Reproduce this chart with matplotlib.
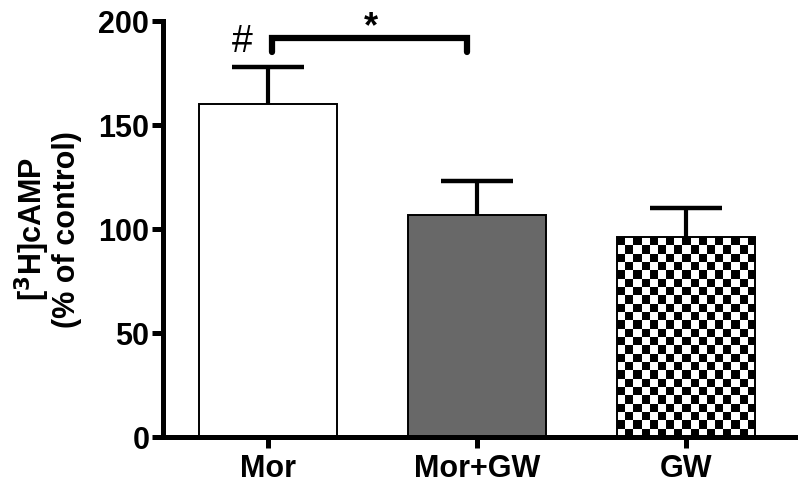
import numpy as np
import matplotlib
matplotlib.use("Agg")
import matplotlib.pyplot as plt

groups = ["Mor", "Mor+GW", "GW"]
means = [160, 107, 96]
errors = [18, 16, 14]
yticks = [0, 50, 100, 150, 200]

plt.rcParams["font.family"] = ["Liberation Sans", "DejaVu Sans"]
plt.rcParams["font.weight"] = "bold"
plt.rcParams["mathtext.default"] = "bf"

fig = plt.figure(figsize=(8, 4.9), dpi=100)
ax = fig.add_axes([0.204, 0.108, 0.79, 0.849])

x = np.arange(len(groups))
width = 0.66
colors = ["white", "#686868", "none"]
ax.bar(x, means, width=width, color=colors, edgecolor="black", linewidth=1.4, zorder=2)
eb = ax.errorbar(x, means, yerr=[np.zeros(3), errors], fmt="none", ecolor="black",
                 elinewidth=3, capsize=26, capthick=3.2, zorder=1)
eb[1][0].set_visible(False)  # no cap at the bar top

ax.set_xlim(-0.5, 2.52)
ax.set_ylim(0, 200)

# checkerboard fill for the GW bar
fig.canvas.draw()
p0 = ax.transData.transform((x[2] - width / 2, 0))
p1 = ax.transData.transform((x[2] + width / 2, means[2]))
cell = 8.3
nx = int(round((p1[0] - p0[0]) / cell))
ny = int(round((p1[1] - p0[1]) / cell))
checks = (np.add.outer(np.arange(ny), np.arange(nx)) % 2).astype(float)
ax.imshow(checks, cmap="gray", interpolation="nearest", aspect="auto",
          extent=[x[2] - width / 2, x[2] + width / 2, 0, means[2]], zorder=1.5)
ax.set_xlim(-0.5, 2.52)
ax.set_ylim(0, 200)

# significance marks
ax.plot([0.02, 0.02, 0.95, 0.95], [185, 192, 192, 185], color="black",
        linewidth=4.5, solid_capstyle="round", solid_joinstyle="miter", clip_on=False)
ax.text(0.495, 205, "*", ha="center", va="top", fontsize=26, fontweight="bold")
ax.text(-0.12, 190, "#", ha="center", va="center", fontsize=27, fontweight="normal")

ax.set_xticks(x)
ax.set_xticklabels(groups)
ax.set_yticks(yticks)
for s in ["top", "right"]:
    ax.spines[s].set_visible(False)
for s in ["left", "bottom"]:
    ax.spines[s].set_linewidth(3.6)
ax.tick_params(axis="both", width=3.6, length=8, labelsize=22)
ax.tick_params(axis="y", pad=2)
ax.tick_params(axis="x", pad=4)
ax.set_ylabel("[$^3$H]cAMP\n(% of control)", fontsize=22, fontweight="bold",
              linespacing=1.0, labelpad=12)

fig.savefig("out.png", dpi=100)
